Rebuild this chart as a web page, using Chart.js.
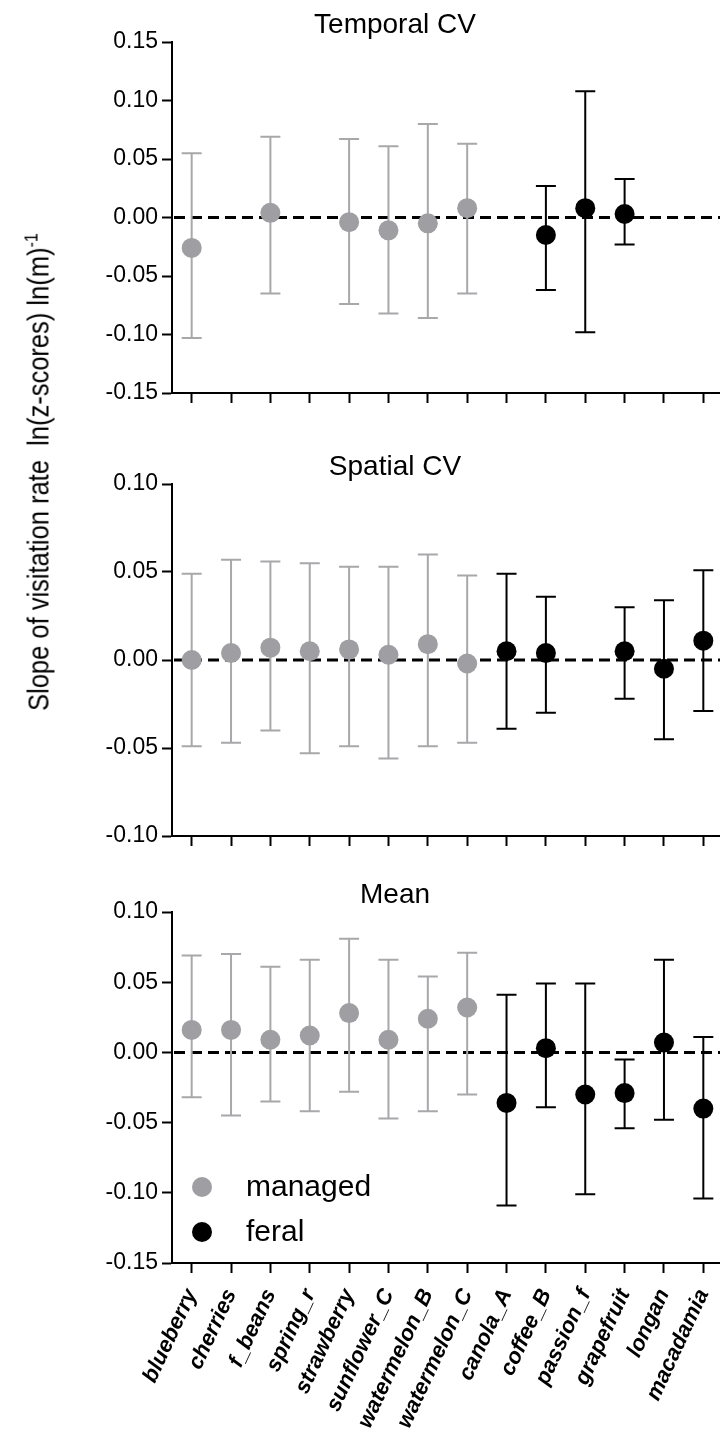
<!DOCTYPE html>
<html>
<head>
<meta charset="utf-8">
<script src="https://cdn.jsdelivr.net/npm/chart.js@4.4.1/dist/chart.umd.min.js"></script>
<style>
  html, body { margin: 0; padding: 0; background: #fff; width: 720px; height: 1443px; overflow: hidden; }
  #wrap { position: relative; width: 720px; height: 1443px; overflow: hidden; }
  .panel { position: absolute; left: 0; width: 724px; }
  #ylab {
    position: absolute; left: 38px; top: 472px;
    transform: translate(-50%, -50%) rotate(-90deg) scaleX(0.85);
    white-space: nowrap; color: #000;
    font: 30px "Liberation Sans", Arial, sans-serif;
  }
  #ylab sup { font-size: 19px; }
</style>
</head>
<body>
<div id="wrap">
  <div class="panel" style="top:0;height:420px"><canvas id="c-temporal"></canvas></div>
  <div class="panel" style="top:420px;height:440px"><canvas id="c-spatial"></canvas></div>
  <div class="panel" style="top:860px;height:583px"><canvas id="c-mean"></canvas></div>
  <div id="ylab">Slope of visitation rate&nbsp;&nbsp;ln(z-scores) ln(m)<sup>-1</sup></div>
</div>
<script>
/* Sklon návštěvnosti – tři panely nad sebou, sdílené kategorie */

const CROPS = ['blueberry', 'cherries', 'f_beans', 'spring_r', 'strawberry', 'sunflower_C',
  'watermelon_B', 'watermelon_C', 'canola_A', 'coffee_B', 'passion_f', 'grapefruit', 'longan', 'macadamia'];
const GROUP = ['managed', 'managed', 'managed', 'managed', 'managed', 'managed', 'managed', 'managed',
  'feral', 'feral', 'feral', 'feral', 'feral', 'feral'];

// Temporal CV
const TEMP_EST = [-0.026, null, 0.004, null, -0.004, -0.011, -0.005, 0.008, null, -0.015, 0.008, 0.003, null, null];
const TEMP_LO  = [-0.103, null, -0.065, null, -0.074, -0.082, -0.086, -0.065, null, -0.062, -0.098, -0.023, null, null];
const TEMP_HI  = [0.055, null, 0.069, null, 0.067, 0.061, 0.080, 0.063, null, 0.027, 0.108, 0.033, null, null];

// Spatial CV
const SPAT_EST = [0.000, 0.004, 0.007, 0.005, 0.006, 0.003, 0.009, -0.002, 0.005, 0.004, null, 0.005, -0.005, 0.011];
const SPAT_LO  = [-0.049, -0.047, -0.040, -0.053, -0.049, -0.056, -0.049, -0.047, -0.039, -0.030, null, -0.022, -0.045, -0.029];
const SPAT_HI  = [0.049, 0.057, 0.056, 0.055, 0.053, 0.053, 0.060, 0.048, 0.049, 0.036, null, 0.030, 0.034, 0.051];

// Mean
const MEAN_EST = [0.016, 0.016, 0.009, 0.012, 0.028, 0.009, 0.024, 0.032, -0.036, 0.003, -0.030, -0.029, 0.007, -0.040];
const MEAN_LO  = [-0.032, -0.045, -0.035, -0.042, -0.028, -0.047, -0.042, -0.030, -0.109, -0.039, -0.101, -0.054, -0.048, -0.104];
const MEAN_HI  = [0.069, 0.070, 0.061, 0.066, 0.081, 0.066, 0.054, 0.071, 0.041, 0.049, 0.049, -0.005, 0.066, 0.011];

const Y_RANGE_TEMP = [-0.15, 0.15];
const Y_RANGE_SPAT = [-0.10, 0.10];
const Y_RANGE_MEAN = [-0.15, 0.10];

const FONT = '"Liberation Sans", Arial, sans-serif';
const GREY_PT  = '#9e9ea3';
const GREY_BAR = '#a8a8ab';
const BLACK = '#000000';

Chart.defaults.font.family = FONT;
Chart.defaults.color = BLACK;
Chart.defaults.animation = false;

const fmtTick = (v) => (Math.abs(v) < 1e-9 ? 0 : v).toFixed(2);

function split(est, grp) {
  return est.map((v, i) => (GROUP[i] === grp ? v : null));
}

/* přerušovaná nula + chybové úsečky pod body */
function barsPlugin(lo, hi) {
  return {
    id: 'bars',
    beforeDatasetsDraw(chart) {
      const { ctx, chartArea: a, scales: { x, y } } = chart;
      ctx.save();
      // nulová čára
      ctx.strokeStyle = BLACK;
      ctx.lineWidth = 3;
      ctx.setLineDash([11, 6]);
      const y0 = y.getPixelForValue(0);
      ctx.beginPath(); ctx.moveTo(a.left + 2, y0); ctx.lineTo(a.right + 20, y0); ctx.stroke();
      ctx.setLineDash([]);
      // chybové úsečky
      lo.forEach((l, i) => {
        if (l === null) return;
        const px = x.getPixelForValue(i);
        const pl = y.getPixelForValue(l), ph = y.getPixelForValue(hi[i]);
        ctx.strokeStyle = GROUP[i] === 'managed' ? GREY_BAR : BLACK;
        ctx.lineWidth = 2;
        ctx.beginPath();
        ctx.moveTo(px, pl); ctx.lineTo(px, ph);
        ctx.moveTo(px - 10, pl); ctx.lineTo(px + 10, pl);
        ctx.moveTo(px - 10, ph); ctx.lineTo(px + 10, ph);
        ctx.stroke();
      });
      ctx.restore();
    }
  };
}

function titlePlugin(text) {
  return {
    id: 'panelTitle',
    afterDraw(chart) {
      const { ctx, chartArea: a } = chart;
      ctx.save();
      ctx.font = '28px ' + FONT;
      ctx.fillStyle = BLACK;
      ctx.textAlign = 'center';
      ctx.textBaseline = 'middle';
      ctx.fillText(text, 395, a.top - 17);
      ctx.restore();
    }
  };
}

const legendPlugin = {
  id: 'innerLegend',
  afterDatasetsDraw(chart) {
    const { ctx, chartArea: a } = chart;
    ctx.save();
    ctx.font = '30px ' + FONT;
    ctx.textBaseline = 'middle';
    chart.data.datasets.forEach((ds, k) => {
      const cy = a.bottom - 76 + k * 45;
      ctx.fillStyle = ds.pointBackgroundColor;
      ctx.beginPath(); ctx.arc(a.left + 30, cy, 10, 0, Math.PI * 2); ctx.fill();
      ctx.fillStyle = BLACK;
      ctx.fillText(ds.label, a.left + 74, cy + 1);
    });
    ctx.restore();
  }
};

function drawPanel(id, title, est, lo, hi, yRange, o) {
  const plugins = [barsPlugin(lo, hi), titlePlugin(title)];
  if (o.legend) plugins.push(legendPlugin);
  new Chart(document.getElementById(id), {
    type: 'line',
    data: {
      labels: CROPS,
      datasets: [
        { label: 'managed', data: split(est, 'managed'), showLine: false,
          pointRadius: 10, pointHoverRadius: 10, pointBorderWidth: 0,
          pointBackgroundColor: GREY_PT, backgroundColor: GREY_PT },
        { label: 'feral', data: split(est, 'feral'), showLine: false,
          pointRadius: 10, pointHoverRadius: 10, pointBorderWidth: 0,
          pointBackgroundColor: BLACK, backgroundColor: BLACK },
      ]
    },
    options: {
      responsive: true, maintainAspectRatio: false,
      layout: { autoPadding: false, padding: { top: o.top, right: 1, bottom: 0, left: 0 } },
      plugins: { legend: { display: false }, tooltip: { enabled: false } },
      scales: {
        x: {
          type: 'category', offset: true,
          grid: { drawOnChartArea: false, drawTicks: true, tickLength: 10, tickWidth: 2, tickColor: BLACK, offset: false },
          border: { display: true, color: BLACK, width: 2 },
          ticks: {
            display: !!o.labels, autoSkip: false, minRotation: 65, maxRotation: 65, padding: 12,
            color: BLACK, font: { size: 22, weight: 'bold', style: 'italic' }
          },
          afterFit: (s) => { s.height = o.xh; s.paddingLeft = 0; s.paddingRight = 0; }
        },
        y: {
          min: yRange[0], max: yRange[1],
          grid: { drawOnChartArea: false, drawTicks: true, tickLength: 10, tickWidth: 2, tickColor: BLACK },
          border: { display: true, color: BLACK, width: 2 },
          ticks: { stepSize: 0.05, padding: 4, color: BLACK, font: { size: 23 }, callback: fmtTick },
          afterFit: (s) => { s.width = 172; }
        }
      }
    },
    plugins
  });
}

drawPanel('c-temporal', 'Temporal CV', TEMP_EST, TEMP_LO, TEMP_HI, Y_RANGE_TEMP, { top: 42, xh: 27 });
drawPanel('c-spatial', 'Spatial CV', SPAT_EST, SPAT_LO, SPAT_HI, Y_RANGE_SPAT, { top: 64, xh: 24 });
drawPanel('c-mean', 'Mean', MEAN_EST, MEAN_LO, MEAN_HI, Y_RANGE_MEAN, { top: 52, xh: 180, labels: true, legend: true });
</script>
</body>
</html>
